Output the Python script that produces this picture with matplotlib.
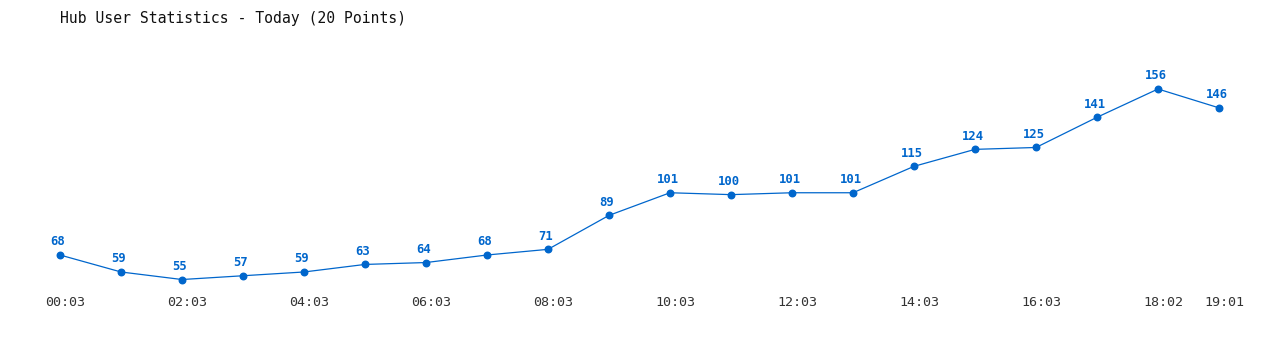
import matplotlib
matplotlib.use("Agg")
import matplotlib.pyplot as plt
import matplotlib.transforms as mtransforms

title = "Hub User Statistics - Today (20 Points)"
values = [68, 59, 55, 57, 59, 63, 64, 68, 71, 89, 101, 100, 101, 101, 115, 124, 125, 141, 156, 146]
tick_idx = [0, 2, 4, 6, 8, 10, 12, 14, 16, 18, 19]
tick_labels = ["00:03", "02:03", "04:03", "06:03", "08:03", "10:03", "12:03",
               "14:03", "16:03", "18:02", "19:01"]

W, H = 1280, 350
fig = plt.figure(figsize=(12.8, 3.5), dpi=100)
fig.patch.set_facecolor("white")

left_px, right_px = 60, 1219
top_px, bot_px = 60, 300
ax = fig.add_axes([left_px / W, (H - bot_px) / H, (right_px - left_px) / W, (bot_px - top_px) / H])
slope = (255 - 89) / (156 - 68)
ax.set_xlim(0, len(values) - 1)
ax.set_ylim(68 - (bot_px - 255) / slope, 156 + (89 - top_px) / slope)
ax.axis("off")

blue = "#0066cc"
xs = list(range(len(values)))
ax.plot(xs, values, color=blue, lw=0.9, marker="o", markersize=4.7, clip_on=False)
for x, v in zip(xs, values):
    ax.annotate(str(v), (x, v), xytext=(-1.5, 9.5), textcoords="offset points",
                ha="center", va="center", color=blue, fontsize=8.8,
                fontweight="bold", family="DejaVu Sans Mono")

offset = mtransforms.ScaledTranslation(5 / 100, 0, fig.dpi_scale_trans)
tick_trans = mtransforms.blended_transform_factory(ax.transData, fig.transFigure) + offset
for i, lab in zip(tick_idx, tick_labels):
    ax.text(i, (H - 303) / H, lab, transform=tick_trans,
            ha="center", va="center", fontsize=9.6, color="#333333", family="DejaVu Sans Mono")

fig.text(60 / W, (H - 18) / H, title, ha="left", va="center", fontsize=10.6,
         family="DejaVu Sans Mono", color="#111111")

fig.savefig("out.png", dpi=100, facecolor="white")
